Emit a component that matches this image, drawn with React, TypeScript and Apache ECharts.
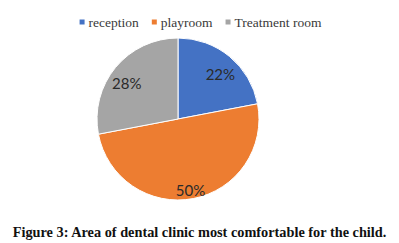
import React, { useEffect, useRef } from "react";
import * as echarts from "echarts";

const categories = ["reception", "playroom", "Treatment room"];
const values = [22, 50, 28];
const colors = ["#4472C4", "#ED7D31", "#A5A5A5"];
const caption = "Figure 3: Area of dental clinic most comfortable for the child.";

export default function App() {
  const ref = useRef<HTMLDivElement>(null);
  useEffect(() => {
    document.body.style.margin = "0";
    const chart = echarts.init(ref.current!, null, { renderer: "svg" });
    const data = categories.map((name, i) => ({ name, value: values[i] }));
    chart.setOption({
      animation: false,
      backgroundColor: "#ffffff",
      color: colors,
      legend: {
        data: categories,
        top: 10,
        left: "center",
        icon: "rect",
        itemWidth: 7,
        itemHeight: 7,
        itemGap: 11,
        textStyle: { fontFamily: "Liberation Serif", fontSize: 13.5, color: "#3a3a3a", padding: [0, 0, 0, -2] },
      },
      title: {
        text: caption,
        left: "center",
        top: 220,
        textStyle: { fontFamily: "Liberation Serif", fontWeight: "bold", fontSize: 14.3, color: "#111111" },
      },
      series: [
        {
          type: "pie",
          center: [178, 119],
          radius: [0, 81],
          startAngle: 90,
          clockwise: true,
          data,
          label: { show: false },
          labelLine: { show: false },
          itemStyle: { borderColor: "#ffffff", borderWidth: 1 },
          emphasis: { disabled: true },
        },
        {
          type: "pie",
          center: [178, 119],
          radius: [46, 81],
          startAngle: 90,
          clockwise: true,
          data,
          silent: true,
          legendHoverLink: false,
          itemStyle: { color: "rgba(0,0,0,0)" },
          label: {
            show: true,
            position: "inside",
            formatter: "{d}%",
            fontFamily: "Lato",
            fontSize: 15,
            color: "#2a2a2a",
          },
          labelLayout: { dy: 6 },
          labelLine: { show: false },
          emphasis: { disabled: true },
        },
      ],
    });
    return () => chart.dispose();
  }, []);
  return <div ref={ref} style={{ position: "fixed", left: 0, top: 0, width: 399, height: 243 }} />;
}
